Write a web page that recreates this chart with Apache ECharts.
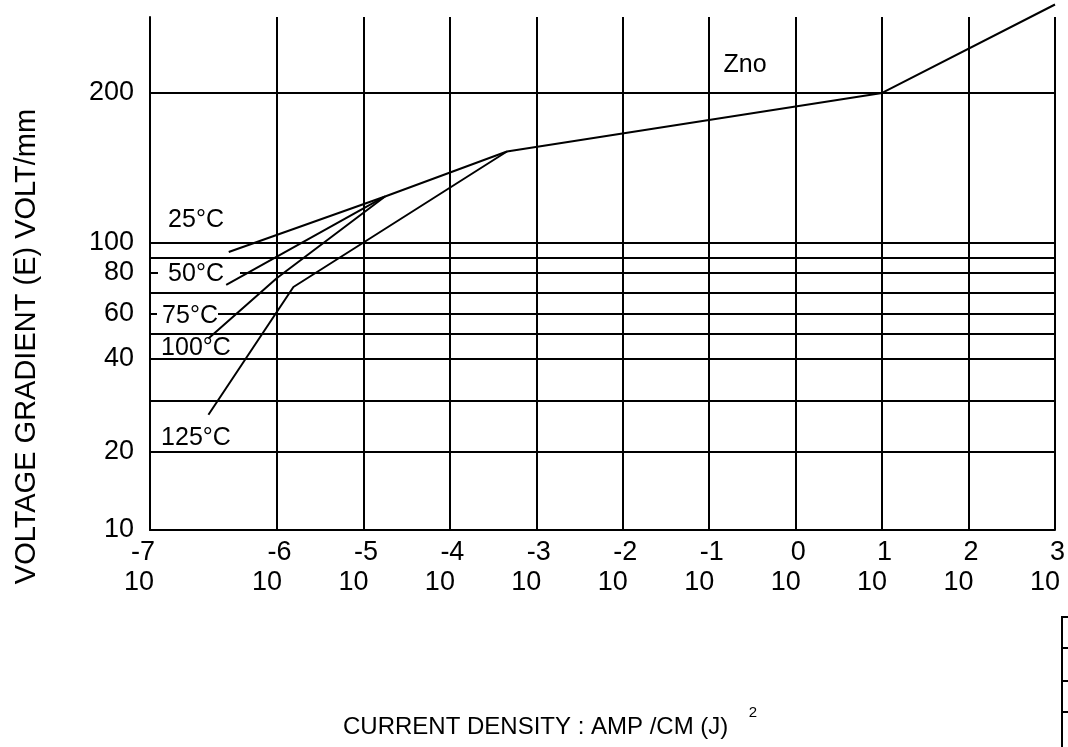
<!DOCTYPE html>
<html><head><meta charset="utf-8">
<script src="https://cdn.jsdelivr.net/npm/echarts@6/dist/echarts.min.js"></script>
<style>html,body{margin:0;padding:0;background:#fff}#c{width:1068px;height:747px}</style>
</head><body><div id="c"></div>
<script>
// ---- X scale: exponent of current density J (10^n A/cm2); first decade is drawn wider on the chart
const xScaleExp  = [-7, -6, 3];
const xScaleUnit = [0, 1.469, 10.469];
const xTickExp   = [-7, -6, -5, -4, -3, -2, -1, 0, 1, 2, 3];
const xGridExp   = [-6, -5, -4, -3, -2, -1, 0, 1, 2, 3];

// ---- Y scale: voltage gradient E (V/mm), chart's own non-uniform spacing
const yScaleVolt = [10, 20, 30, 40, 50, 60, 70, 80, 90, 100, 200, 300];
const yScaleUnit = [0, 15.20, 25.15, 33.33, 38.30, 42.11, 46.20, 50.10, 53.02, 55.95, 85.19, 114.42];
const yGridVolt  = [20, 30, 40, 50, 60, 70, 80, 90, 100, 200];
const yLabelVolt = [10, 20, 40, 60, 80, 100, 200];

// ---- series: [exponent of J, E V/mm]
const znoMain  = [[3, 259], [1, 200], [-3.34, 161], [-4.75, 131]];
const curve25  = [[-4.75, 131], [-6.38, 94]];
const curve50  = [[-4.75, 131], [-6.40, 74]];
const curve100 = [[-4.75, 131], [-6.00, 77.5], [-6.54, 48]];
const curve125 = [[-3.34, 161], [-5.81, 73], [-6.54, 27.3]];

function interp(v, xs, ys) {
  let i = 0;
  while (i < xs.length - 2 && v > xs[i + 1]) i++;
  return ys[i] + (v - xs[i]) * (ys[i + 1] - ys[i]) / (xs[i + 1] - xs[i]);
}
const xu = v => interp(v, xScaleExp, xScaleUnit);
const yu = v => interp(v, yScaleVolt, yScaleUnit);
const toUnits = arr => arr.map(p => [xu(p[0]), yu(p[1])]);

const FONT = "'Liberation Sans', Arial, sans-serif";
const TICK = 27;
const lineSeries = (name, d) => ({
  name, type: 'line', data: toUnits(d), symbol: 'none', clip: false, z: 4,
  lineStyle: { color: '#000', width: 2 }, silent: true, animation: false
});
const label = (t, x, y, size) => ({
  type: 'text', z: 5, x, y,
  style: { text: t, fontSize: size || 25, fontFamily: FONT, fill: '#000', textAlign: 'center', textVerticalAlign: 'middle' }
});

const chart = echarts.init(document.getElementById('c'));
chart.setOption({
  animation: false,
  backgroundColor: '#fff',
  textStyle: { fontFamily: FONT },
  grid: { left: 150, right: 13, top: 17, bottom: 217, containLabel: false, outerBoundsMode: 'none' },
  xAxis: {
    type: 'value', min: xScaleUnit[0], max: xScaleUnit[xScaleUnit.length - 1],
    axisLine: { show: true, lineStyle: { color: '#000', width: 2 } },
    axisTick: { show: false, customValues: xGridExp.map(xu) },
    splitLine: { show: true, lineStyle: { color: '#000', width: 2 } },
    axisLabel: {
      customValues: xTickExp.map(xu), margin: 8, color: '#000', fontFamily: FONT,
      formatter: function (v) {
        let best = 0;
        xTickExp.forEach((e, i) => { if (Math.abs(xu(e) - v) < Math.abs(xu(xTickExp[best]) - v)) best = i; });
        const e = xTickExp[best];
        return best === 0 ? '{e0|' + e + '}\n{b0|10}' : '{e|' + e + '}\n{b|10}';
      },
      rich: {
        e:  { fontSize: TICK, lineHeight: 30, color: '#000', fontFamily: FONT, padding: [0, 0, 0, 5] },
        b:  { fontSize: TICK, lineHeight: 30, color: '#000', fontFamily: FONT, padding: [0, 20, 0, 0] },
        e0: { fontSize: TICK, lineHeight: 30, color: '#000', fontFamily: FONT, padding: [0, 14, 0, 0] },
        b0: { fontSize: TICK, lineHeight: 30, color: '#000', fontFamily: FONT, padding: [0, 22, 0, 0] }
      }
    }
  },
  yAxis: {
    type: 'value', min: 0, max: 100,
    name: 'VOLTAGE GRADIENT (E) VOLT/mm', nameLocation: 'middle', nameGap: 109,
    nameTextStyle: { fontSize: 29, color: '#000', fontFamily: FONT, padding: [0, 146, 0, 0] },
    axisLine: { show: true, lineStyle: { color: '#000', width: 2 } },
    axisTick: { show: false, customValues: yGridVolt.map(yu) },
    splitLine: { show: true, lineStyle: { color: '#000', width: 2 } },
    axisLabel: {
      customValues: yLabelVolt.map(yu), margin: 16, color: '#000', fontSize: TICK, fontFamily: FONT,
      formatter: function (v) {
        let best = 0;
        yLabelVolt.forEach((e, i) => { if (Math.abs(yu(e) - v) < Math.abs(yu(yLabelVolt[best]) - v)) best = i; });
        return String(yLabelVolt[best]);
      }
    }
  },
  series: [
    lineSeries('Zno', znoMain),
    lineSeries('25°C', curve25),
    lineSeries('50°C', curve50),
    lineSeries('100°C', curve100),
    lineSeries('125°C', curve125)
  ],
  graphic: [
    { type: 'rect', z: 1, shape: { x: 158, y: 270, width: 82, height: 6 }, style: { fill: '#fff' } },
    { type: 'rect', z: 1, shape: { x: 157, y: 311, width: 61, height: 6 }, style: { fill: '#fff' } },
    label('Zno', 745, 65),
    label('25°C', 196, 220),
    label('50°C', 196, 274),
    label('75°C', 190, 316),
    label('100°C', 196, 348),
    label('125°C', 196, 438),
    { type: 'text', z: 5, x: 343, y: 727, style: { text: 'CURRENT DENSITY : AMP /CM (J)', fontSize: 24, fontFamily: FONT, fill: '#000', textAlign: 'left', textVerticalAlign: 'middle' } },
    label('2', 753, 713, 15),
    { type: 'rect', z: 5, shape: { x: 1062, y: 617, width: 30, height: 160 }, style: { fill: 'none', stroke: '#000', lineWidth: 2 } },
    { type: 'line', z: 5, shape: { x1: 1062, y1: 648, x2: 1070, y2: 648 }, style: { stroke: '#000', lineWidth: 2 } },
    { type: 'line', z: 5, shape: { x1: 1062, y1: 681, x2: 1070, y2: 681 }, style: { stroke: '#000', lineWidth: 2 } },
    { type: 'line', z: 5, shape: { x1: 1062, y1: 712, x2: 1070, y2: 712 }, style: { stroke: '#000', lineWidth: 2 } }
  ]
});
</script>
</body></html>
